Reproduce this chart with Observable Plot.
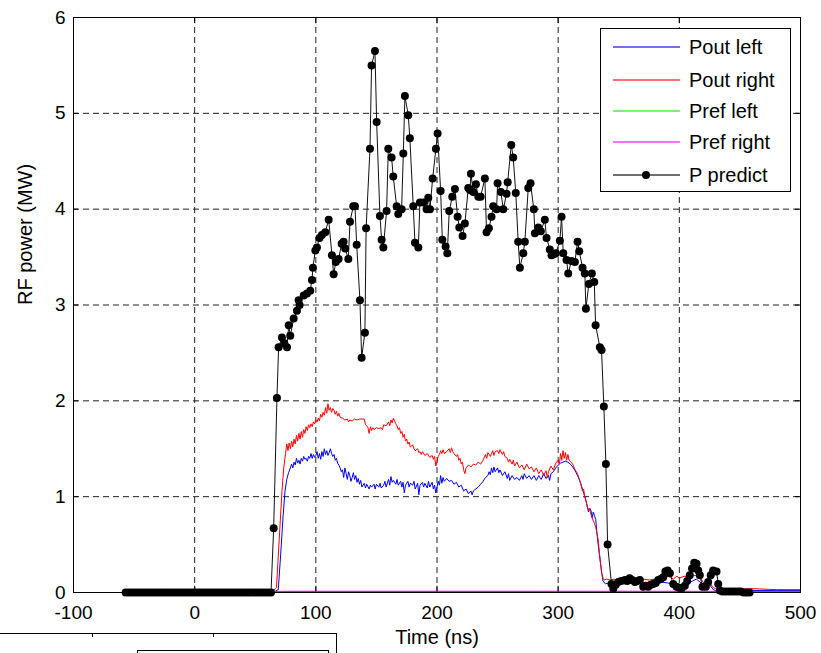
<!DOCTYPE html>
<html>
<head>
<meta charset="utf-8">
<script src="https://cdn.jsdelivr.net/npm/d3@7"></script>
<script src="https://cdn.jsdelivr.net/npm/@observablehq/plot@0.6"></script>
<style>
  body { margin: 0; background: #fff; }
  #wrap { position: relative; width: 821px; height: 653px; overflow: hidden; font-family: "Liberation Sans", Arial, Helvetica, sans-serif; }
  #legend { position: absolute; left: 600px; top: 28px; width: 191px; height: 164px; border: 1px solid #000; background: #fff; box-sizing: border-box; }
  .lrow { position: absolute; left: 0; height: 0; }
  .lline { position: absolute; left: 12px; width: 67px; height: 2px; top: -1px; }
  .ldot { position: absolute; left: 41px; width: 8px; height: 8px; border-radius: 50%; background: #000; top: -4px; }
  .ltext { position: absolute; left: 88px; top: -12px; font-size: 20px; line-height: 24px; white-space: nowrap; color: #000; }
  #frag { position: absolute; left: -2px; top: 633px; width: 339px; height: 40px; border: 1px solid #000; box-sizing: border-box; background: #fff; }
  #fragInner { position: absolute; left: 137px; top: 650px; width: 192px; height: 20px; border: 1px solid #000; box-sizing: border-box; }
  .fragTick { position: absolute; top: 633px; width: 1px; height: 4px; background: #000; }
</style>
</head>
<body>
<div id="wrap"></div>
<script>
// ---------- data ----------
const xTicks = [-100, 0, 100, 200, 300, 400, 500];
const yTicks = [0, 1, 2, 3, 4, 5, 6];
const seriesNames = ["Pout left", "Pout right", "Pref left", "Pref right", "P predict"];
const seriesColors = ["#0000ff", "#ff0000", "#00ff00", "#ff00ff", "#000000"];
const legendLineColors = ["#6f6fff", "#ff7070", "#70ff70", "#ff70ff", "#6e6e6e"];

// [time ns, power MW]
const poutLeft = [
[-57,0.01],[-30,0.01],[0,0.01],[30,0.01],[66,0.01],[69,0.03],[71,0.4],[73,0.8],[74.5,1.05],[76,1.18],[77.5,1.25],[79,1.3],[80,1.34],[81,1.3],[82,1.36],[83,1.33],[84,1.4],[85,1.35],[86,1.38],[87,1.34],[88,1.4],[89,1.37],[90,1.42],[91,1.39],[92,1.4],[93,1.37],[94,1.42],[95,1.4],[96,1.45],[97,1.4],[98,1.44],[99,1.41],[100,1.43],[101,1.47],[102,1.4],[103,1.45],[104,1.39],[105,1.47],[106,1.42],[107,1.5],[108,1.44],[109,1.48],[110,1.43],[111,1.46],[112,1.5],[113,1.45],[114,1.42],[115,1.44],[116,1.38],[117,1.4],[118,1.35],[119,1.33],[120,1.3],[121,1.26],[122,1.28],[123,1.2],[124,1.3],[125,1.24],[126,1.18],[127,1.26],[128,1.22],[129,1.16],[130,1.2],[131,1.25],[132,1.18],[133,1.22],[134,1.15],[135,1.19],[136,1.13],[137,1.17],[138,1.1],[140,1.14],[141,1.09],[142,1.13],[144,1.08],[145,1.12],[146,1.1],[148,1.13],[149,1.08],[150,1.13],[152,1.1],[153,1.14],[154,1.09],[156,1.12],[157,1.16],[158,1.1],[160,1.18],[161,1.12],[162,1.21],[163,1.15],[164,1.17],[166,1.13],[167,1.18],[168,1.12],[170,1.16],[171,1.1],[172,1.15],[173,1.04],[174,1.12],[176,1.16],[177,1.1],[178,1.14],[180,1.12],[181,1.16],[182,1.08],[184,1.14],[185,1.02],[186,1.12],[188,1.15],[189,1.1],[190,1.14],[192,1.09],[193,1.16],[194,1.1],[196,1.15],[197,1.08],[198,1.12],[199,1.04],[200,1.1],[201,1.16],[202,1.12],[203,1.22],[204,1.14],[205,1.2],[206,1.16],[208,1.19],[210,1.16],[212,1.17],[214,1.13],[216,1.15],[218,1.1],[220,1.12],[222,1.06],[224,1.08],[226,1.03],[228,1.06],[229,1.02],[230,1.06],[232,1.08],[234,1.1],[236,1.13],[238,1.16],[240,1.2],[242,1.22],[243,1.26],[244,1.23],[245,1.3],[246,1.25],[247,1.31],[248,1.26],[250,1.3],[251,1.25],[252,1.28],[254,1.22],[256,1.26],[258,1.19],[259,1.24],[260,1.17],[262,1.22],[264,1.18],[266,1.2],[268,1.17],[270,1.22],[271,1.18],[272,1.24],[274,1.19],[276,1.22],[278,1.18],[280,1.22],[282,1.17],[284,1.22],[286,1.18],[288,1.24],[290,1.19],[292,1.22],[293,1.17],[294,1.24],[296,1.26],[298,1.3],[300,1.33],[302,1.35],[304,1.36],[306,1.37],[308,1.36],[310,1.34],[312,1.31],[314,1.27],[316,1.22],[318,1.16],[320,1.08],[322,1.0],[323,0.95],[324,0.9],[325,0.84],[326,0.88],[327,0.86],[328,0.78],[329,0.84],[330,0.8],[331,0.76],[332,0.62],[333,0.5],[334,0.4],[335,0.3],[336,0.2],[337,0.12],[339,0.09],[342,0.1],[346,0.09],[350,0.1],[355,0.09],[360,0.1],[365,0.09],[370,0.1],[375,0.08],[380,0.1],[385,0.11],[390,0.1],[395,0.09],[398,0.06],[400,0.05],[402,0.07],[405,0.08],[408,0.1],[411,0.12],[414,0.14],[416,0.12],[418,0.1],[420,0.07],[422,0.1],[425,0.08],[428,0.03],[430,0.02],[460,0.02],[500,0.02]
];

const poutRight = [
[-57,0.02],[-40,0.02],[-20,0.03],[0,0.02],[20,0.03],[40,0.02],[60,0.03],[66,0.03],[67.5,0.05],[70,0.6],[72,1.05],[73.5,1.3],[75,1.45],[76,1.55],[77,1.48],[78,1.56],[79,1.5],[80,1.58],[81,1.52],[82,1.6],[83,1.55],[84,1.64],[85,1.58],[86,1.66],[87,1.6],[88,1.68],[89,1.62],[90,1.7],[91,1.66],[92,1.73],[93,1.69],[94,1.75],[95,1.72],[96,1.76],[97,1.73],[98,1.78],[99,1.76],[100,1.8],[101,1.78],[102,1.82],[103,1.79],[104,1.86],[105,1.83],[106,1.88],[107,1.85],[108,1.93],[109,1.87],[110,1.97],[111,1.9],[112,1.93],[113,1.88],[114,1.92],[115,1.9],[116,1.86],[117,1.89],[118,1.84],[119,1.87],[120,1.83],[122,1.82],[124,1.8],[126,1.81],[127,1.78],[128,1.8],[130,1.79],[132,1.81],[134,1.8],[136,1.81],[138,1.81],[140,1.81],[141,1.75],[142,1.74],[143,1.72],[144,1.66],[145,1.73],[146,1.69],[147,1.72],[148,1.7],[150,1.72],[152,1.71],[154,1.72],[155,1.7],[156,1.75],[158,1.74],[160,1.78],[161,1.74],[162,1.8],[163,1.77],[164,1.82],[165,1.79],[166,1.76],[167,1.74],[168,1.7],[169,1.72],[170,1.66],[171,1.68],[172,1.62],[173,1.65],[174,1.58],[175,1.6],[176,1.55],[177,1.57],[178,1.52],[180,1.54],[181,1.5],[182,1.48],[184,1.5],[185,1.46],[186,1.47],[187,1.44],[188,1.47],[190,1.43],[192,1.45],[194,1.41],[196,1.43],[197,1.39],[198,1.42],[199,1.32],[200,1.36],[201,1.42],[202,1.44],[203,1.48],[204,1.45],[205,1.49],[206,1.45],[208,1.47],[210,1.5],[211,1.46],[212,1.51],[213,1.47],[214,1.45],[216,1.42],[217,1.44],[218,1.38],[219,1.4],[220,1.34],[221,1.36],[222,1.28],[223,1.24],[224,1.3],[226,1.33],[228,1.31],[230,1.34],[232,1.33],[234,1.36],[236,1.34],[238,1.38],[240,1.44],[241,1.4],[242,1.46],[244,1.42],[246,1.48],[247,1.43],[248,1.47],[250,1.48],[251,1.45],[252,1.49],[254,1.44],[255,1.47],[256,1.42],[258,1.4],[259,1.36],[260,1.39],[262,1.34],[263,1.38],[264,1.32],[266,1.36],[268,1.3],[270,1.33],[272,1.28],[274,1.34],[276,1.29],[278,1.31],[280,1.26],[282,1.3],[284,1.24],[286,1.28],[288,1.22],[290,1.27],[291,1.2],[292,1.26],[294,1.32],[296,1.28],[298,1.35],[300,1.38],[301,1.34],[302,1.45],[303,1.38],[304,1.48],[305,1.4],[306,1.46],[307,1.38],[308,1.44],[309,1.38],[310,1.37],[312,1.34],[314,1.28],[316,1.24],[318,1.16],[319,1.12],[320,1.06],[321,1.08],[322,1.0],[323,0.96],[324,0.9],[325,0.86],[326,0.88],[327,0.82],[328,0.78],[330,0.72],[331,0.68],[332,0.62],[333,0.55],[334,0.42],[335,0.3],[336,0.2],[337,0.15],[338,0.13],[340,0.14],[343,0.13],[346,0.14],[350,0.12],[355,0.14],[360,0.13],[365,0.12],[370,0.14],[375,0.13],[380,0.14],[385,0.15],[388,0.14],[390,0.17],[393,0.16],[395,0.14],[398,0.17],[400,0.15],[404,0.17],[408,0.16],[412,0.18],[415,0.17],[418,0.14],[420,0.1],[422,0.13],[425,0.1],[428,0.05],[430,0.04],[440,0.03],[460,0.04],[480,0.03],[500,0.03]
];

const prefLeft = [
[-57,0.005],[0,0.006],[66,0.005],[75,0.01],[100,0.008],[150,0.01],[200,0.007],[250,0.009],[300,0.01],[340,0.006],[400,0.008],[450,0.006],[500,0.005]
];

const prefRight = [
[-57,0.01],[0,0.01],[66,0.01],[75,0.012],[100,0.012],[150,0.012],[200,0.012],[250,0.012],[300,0.012],[340,0.011],[400,0.011],[450,0.01],[500,0.01]
];

const pPredict = [
[-57,0],[-54.5,0],[-52,0],[-49.5,0],[-47,0],[-44.5,0],[-42,0],[-39.5,0],[-37,0],[-34.5,0],[-32,0],[-29.5,0],[-27,0],[-24.5,0],[-22,0],[-19.5,0],[-17,0],[-14.5,0],[-12,0],[-9.5,0],[-7,0],[-4.5,0],[-2,0],[0.5,0],[3,0],[5.5,0],[8,0],[10.5,0],[13,0],[15.5,0],[18,0],[20.5,0],[23,0],[25.5,0],[28,0],[30.5,0],[33,0],[35.5,0],[38,0],[40.5,0],[43,0],[45.5,0],[48,0],[50.5,0],[53,0],[55.5,0],[58,0],[60.5,0],[63,0],
[65.2,0.67],[67.9,2.03],[69.3,2.56],[72,2.66],[74,2.6],[76.2,2.56],[77.6,2.79],[78.9,2.68],[81.7,2.86],[84.4,2.94],[85.8,3.05],[86.6,3.0],[90,3.1],[92.7,3.12],[95.4,3.15],[96.8,3.26],[97.6,3.39],[99.6,3.57],[100.9,3.6],[103,3.7],[105,3.73],[107.8,3.76],[110.6,3.89],[113.3,3.52],[114.7,3.32],[116.5,3.45],[118.8,3.48],[121.3,3.64],[122.9,3.66],[124.2,3.59],[126.8,3.48],[128.2,3.87],[130.9,4.03],[132.3,4.03],[133.7,3.63],[136.4,3.05],[137.8,2.45],[140.5,2.71],[141.5,3.8],[144.7,4.63],[146,5.5],[148.8,5.65],[150.2,4.91],[152.9,3.93],[154.3,3.68],[155.7,3.6],[158.4,3.98],[159.8,4.63],[162.5,4.54],[163.9,4.34],[166.7,4.03],[168,3.95],[170.8,4.0],[172.2,4.58],[173.5,5.18],[176.3,4.98],[177.6,4.74],[180.4,4.03],[181.8,3.65],[184.6,3.6],[185.9,4.07],[188.7,4.07],[191.4,4.0],[192.8,4.12],[194.2,4.0],[196.4,4.32],[199.1,4.63],[200.5,4.79],[203,4.19],[204.4,3.68],[207.1,3.61],[208.5,3.54],[210.1,3.98],[212.6,4.13],[214.8,4.21],[217,3.92],[218.4,3.81],[221.1,3.72],[223,3.85],[225.8,4.22],[227.2,4.2],[228,4.37],[229.9,4.18],[232.1,4.26],[234.1,4.13],[236,4.13],[239.5,4.32],[240.9,3.76],[242.8,3.8],[245,3.92],[246.4,4.03],[249.2,4.0],[250,4.27],[252.7,4.18],[254.7,4.0],[257.4,4.16],[258.3,4.28],[261.3,4.67],[262.9,4.54],[265,4.17],[267,3.66],[268.4,3.39],[271.2,3.54],[272.5,3.66],[275.3,4.22],[277.2,4.27],[279.9,4.0],[280.8,3.75],[283.6,3.81],[285.7,3.77],[289,3.89],[290.4,3.7],[293.1,3.58],[294.5,3.52],[296.3,3.53],[298.1,3.54],[301.4,3.67],[302.8,3.92],[304.2,3.54],[306.9,3.47],[308.3,3.33],[311,3.46],[313.8,3.45],[316,3.66],[317.4,3.56],[320.1,3.39],[322,3.33],[322.9,2.96],[325.3,3.22],[327.8,3.33],[329.8,3.24],[330.9,2.79],[334.4,2.56],[335.8,2.53],[337.7,1.94],[339.4,1.34],[340.8,0.5],[344,0.09],[345.5,0.04],
[347.5,0.08],[349.6,0.11],[352,0.12],[355,0.13],[357,0.12],[359,0.15],[361,0.13],[363.3,0.11],[365.4,0.12],[367.4,0.13],[370.2,0.06],[372.3,0.07],[374.3,0.06],[376.4,0.08],[378.4,0.09],[380.5,0.1],[382.6,0.13],[384.6,0.14],[386.7,0.16],[388.5,0.22],[390.3,0.23],[392.2,0.2],[395,0.09],[397.7,0.06],[399.8,0.05],[401.8,0.04],[404.5,0.07],[406.5,0.12],[408.6,0.18],[410.5,0.25],[412.3,0.31],[414.2,0.3],[415.6,0.23],[416.9,0.18],[419.1,0.06],[421.9,0.06],[423.8,0.11],[425.9,0.18],[427.9,0.23],[430.7,0.22],[432.1,0.09],[433.4,0.02],[435.5,0.01],[438,0.01],[440.5,0.01],[443,0.01],[445.5,0.01],[448,0.01],[450.5,0.01],[453,0],[455.5,0],[458,0]
];

const xLabel = "Time (ns)";
const yLabel = "RF power (MW)";

// ---------- chart ----------
const W = 821, H = 653;
const X = d => d[0], Y = d => d[1];
const gridStyle = {stroke: "#222", strokeOpacity: 1, strokeWidth: 1, strokeDasharray: "6,4"};

const chart = Plot.plot({
  width: W,
  height: H,
  marginLeft: 73,
  marginRight: 21,
  marginTop: 17,
  marginBottom: 61,
  style: {fontFamily: "'Liberation Sans', Arial, Helvetica, sans-serif", fontSize: "19px", background: "transparent", color: "#000"},
  x: {domain: [-100, 500]},
  y: {domain: [0, 6]},
  marks: [
    Plot.gridX(xTicks, gridStyle),
    Plot.gridY(yTicks, gridStyle),
    Plot.line(poutLeft, {x: X, y: Y, stroke: seriesColors[0], strokeWidth: 1}),
    Plot.line(poutRight, {x: X, y: Y, stroke: seriesColors[1], strokeWidth: 1}),
    Plot.line(prefLeft, {x: X, y: Y, stroke: seriesColors[2], strokeWidth: 1}),
    Plot.line(prefRight, {x: X, y: Y, stroke: seriesColors[3], strokeWidth: 1.2}),
    Plot.line(pPredict, {x: X, y: Y, stroke: "#111", strokeWidth: 1}),
    Plot.dot(pPredict, {x: X, y: Y, r: 4, fill: "#000", stroke: null}),
    // inward ticks (MATLAB style, all four sides)
    Plot.ruleX(xTicks, {y1: 0, y2: 0.065, stroke: "#000"}),
    Plot.ruleX(xTicks, {y1: 5.935, y2: 6, stroke: "#000"}),
    Plot.ruleY(yTicks, {x1: -100, x2: -95.8, stroke: "#000"}),
    Plot.ruleY(yTicks, {x1: 495.8, x2: 500, stroke: "#000"}),
    Plot.frame({stroke: "#000", strokeWidth: 1}),
    Plot.axisX(xTicks, {tickSize: 0, tickPadding: 13, tickFormat: d => String(d), label: null, fontSize: 19}),
    Plot.axisY(yTicks, {tickSize: 0, tickPadding: 8, tickFormat: d => String(d), label: null, fontSize: 19}),
    Plot.text([xLabel], {text: d => d, frameAnchor: "bottom", dy: 51, fontSize: 20, fill: "#000"}),
    Plot.text([yLabel], {text: d => d, frameAnchor: "left", rotate: -90, dx: -48, fontSize: 20, fill: "#000"})
  ]
});

const wrap = document.getElementById("wrap");
wrap.appendChild(chart);

// fragment of the next figure visible at bottom-left
const frag = document.createElement("div"); frag.id = "frag"; wrap.appendChild(frag);
const fragInner = document.createElement("div"); fragInner.id = "fragInner"; wrap.appendChild(fragInner);
[92, 213].forEach(x => { const t = document.createElement("div"); t.className = "fragTick"; t.style.left = x + "px"; wrap.appendChild(t); });

// legend (MATLAB-style box)
const legend = document.createElement("div");
legend.id = "legend";
const rowTops = [18, 51, 82, 113, 146];
seriesNames.forEach((name, i) => {
  const row = document.createElement("div");
  row.className = "lrow";
  row.style.top = rowTops[i] + "px";
  const line = document.createElement("div");
  line.className = "lline";
  line.style.backgroundColor = legendLineColors[i];
  row.appendChild(line);
  if (i === 4) { const dot = document.createElement("div"); dot.className = "ldot"; row.appendChild(dot); }
  const txt = document.createElement("div");
  txt.className = "ltext";
  txt.textContent = name;
  row.appendChild(txt);
  legend.appendChild(row);
});
wrap.appendChild(legend);
</script>
</body>
</html>
